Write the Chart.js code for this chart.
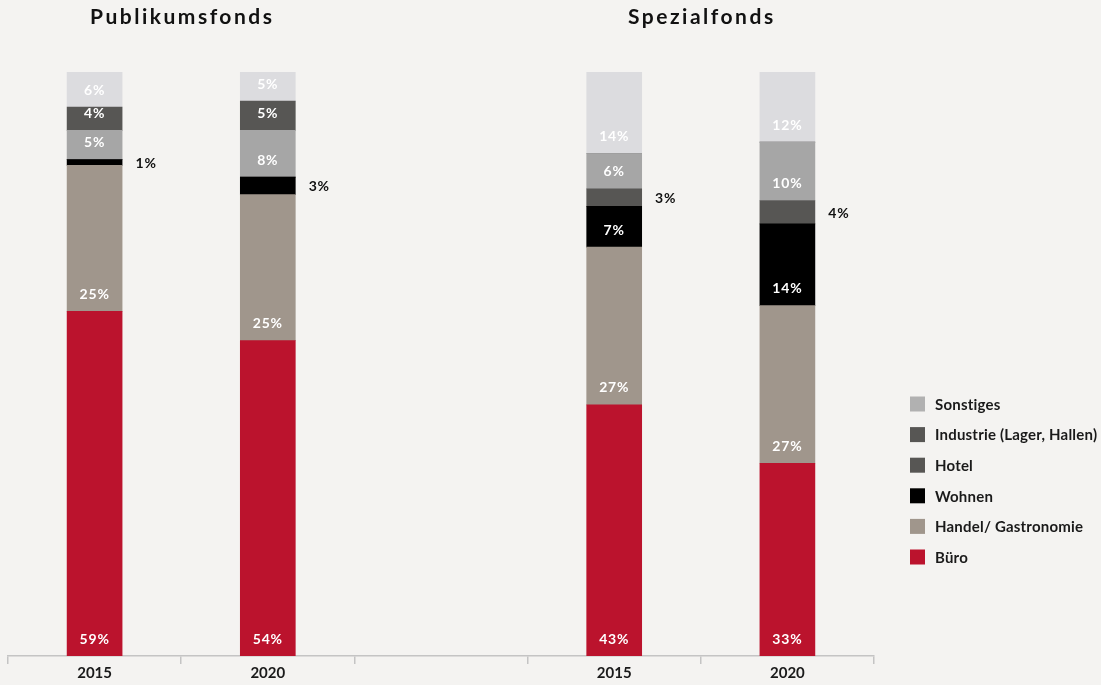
<!DOCTYPE html>
<html>
<head>
<meta charset="utf-8">
<script src="https://cdn.jsdelivr.net/npm/chart.js@4"></script>
<style>
html,body{margin:0;padding:0;background:#f4f3f1;}
#wrap{width:1101px;height:685px;position:relative;}
</style>
</head>
<body>
<div id="wrap"><canvas id="c" width="1101" height="685"></canvas></div>
<script>
// Categories (third slot is an empty spacer between the two groups)
const categories = ["2015", "2020", "", "2015", "2020"];
const groupTitles = ["Publikumsfonds", "Spezialfonds"];

// Series values in percent, stacked bottom to top
const buero      = [59, 54, null, 43, 33];
const handel     = [25, 25, null, 27, 27];
const wohnen     = [1, 3, null, 7, 14];
const hotelLow   = [0, 0, null, 3, 4];   // dark grey segment directly above Wohnen (Spezialfonds)
const industrie  = [5, 8, null, 6, 10];  // medium grey segment
const hotelHigh  = [4, 5, null, 0, 0];   // dark grey segment above medium grey (Publikumsfonds)
const sonstiges  = [6, 5, null, 14, 12];

// Legend entries (top to bottom)
const legendLabels = ["Sonstiges", "Industrie (Lager, Hallen)", "Hotel", "Wohnen", "Handel/ Gastronomie", "Büro"];
const legendColors = ["#b1b1b1", "#575654", "#575654", "#000000", "#a0968c", "#bb132d"];

// Which labels sit to the right of the bar: [datasetIndex, categoryIndex]
const outsideLabels = [[2, 0], [2, 1], [3, 3], [3, 4]];

const FONT = "Lato, 'DejaVu Sans', sans-serif";

const datasets = [
  {label: "Büro", data: buero, backgroundColor: "#bb132d"},
  {label: "Handel/ Gastronomie", data: handel, backgroundColor: "#a0968c"},
  {label: "Wohnen", data: wohnen, backgroundColor: "#000000"},
  {label: "Hotel", data: hotelLow, backgroundColor: "#575654"},
  {label: "Industrie (Lager, Hallen)", data: industrie, backgroundColor: "#a6a6a6"},
  {label: "Hotel", data: hotelHigh, backgroundColor: "#575654"},
  {label: "Sonstiges", data: sonstiges, backgroundColor: "#dcdcdf"}
].map(d => Object.assign(d, {borderWidth: 0, barThickness: 55, stack: "s"}));

const labelPlugin = {
  id: "segLabels",
  afterDatasetsDraw(chart) {
    const ctx = chart.ctx;
    ctx.save();
    ctx.font = "bold 14px " + FONT;
    ctx.textAlign = "center";
    ctx.textBaseline = "middle";
    ctx.letterSpacing = "0.8px";
    chart.data.datasets.forEach((ds, di) => {
      const meta = chart.getDatasetMeta(di);
      meta.data.forEach((el, i) => {
        const v = ds.data[i];
        if (!v) return;
        const outside = outsideLabels.some(p => p[0] === di && p[1] === i);
        const top = el.y, base = el.base;
        if (outside) {
          ctx.fillStyle = "#111";
          ctx.fillText(v + "%", el.x + el.width / 2 + 24, (top + base) / 2 + 1);
        } else {
          ctx.fillStyle = "#ffffff";
          ctx.fillText(v + "%", el.x, base - 17);
        }
      });
    });
    ctx.restore();
  }
};

const titlePlugin = {
  id: "groupTitles",
  afterDraw(chart) {
    const ctx = chart.ctx;
    const xs = chart.scales.x;
    ctx.save();
    ctx.font = "bold 21px " + FONT;
    ctx.fillStyle = "#111";
    ctx.textAlign = "center";
    ctx.textBaseline = "middle";
    ctx.letterSpacing = "2.5px";
    const c1 = (xs.getPixelForValue(0) + xs.getPixelForValue(1)) / 2;
    const c2 = (xs.getPixelForValue(3) + xs.getPixelForValue(4)) / 2;
    ctx.fillText(groupTitles[0], c1 + 1, 17);
    ctx.fillText(groupTitles[1], c2 + 1, 17);
    ctx.restore();
  }
};

const legendPlugin = {
  id: "sideLegend",
  afterDraw(chart) {
    const ctx = chart.ctx;
    ctx.save();
    ctx.font = "bold 15px " + FONT;
    ctx.letterSpacing = "0.2px";
    ctx.textAlign = "left";
    ctx.textBaseline = "middle";
    const x0 = chart.chartArea.right + 36;
    const y0 = 404, step = 30.6;
    legendLabels.forEach((lab, i) => {
      const y = y0 + i * step;
      ctx.fillStyle = legendColors[i];
      ctx.fillRect(x0, y - 7.5, 15, 15);
      ctx.fillStyle = "#1a1a1a";
      ctx.fillText(lab, x0 + 25, y + 1);
    });
    ctx.restore();
  }
};

new Chart(document.getElementById("c"), {
  type: "bar",
  data: {labels: categories, datasets: datasets},
  options: {
    responsive: false,
    animation: false,
    layout: {padding: {left: 8, right: 227, top: 72, bottom: 3}},
    plugins: {legend: {display: false}, tooltip: {enabled: false}, title: {display: false}},
    scales: {
      x: {
        stacked: true,
        grid: {display: true, drawOnChartArea: false, drawTicks: true, tickLength: 8, color: "#c4c4c4", lineWidth: 1.5, offset: true},
        border: {display: true, color: "#c4c4c4", width: 1.5},
        ticks: {color: "#1a1a1a", font: {family: FONT, size: 15, weight: "bold"}, padding: 0, maxRotation: 0}
      },
      y: {stacked: true, display: false, min: 0, max: 100}
    }
  },
  plugins: [labelPlugin, titlePlugin, legendPlugin]
});
</script>
</body>
</html>
